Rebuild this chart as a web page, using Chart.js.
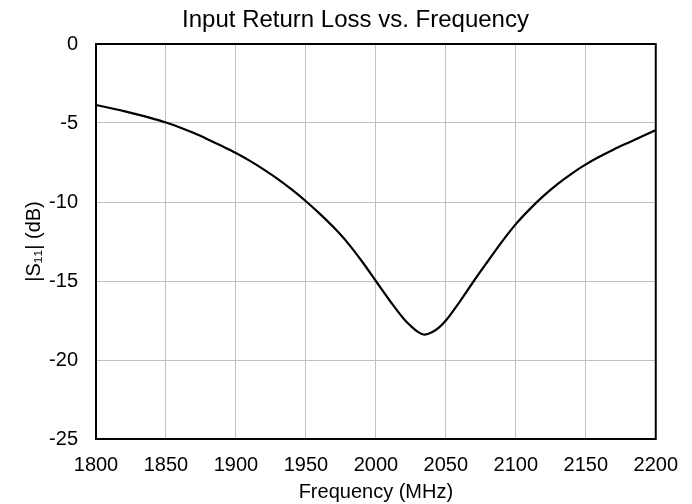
<!DOCTYPE html>
<html>
<head>
<meta charset="utf-8">
<script src="https://cdn.jsdelivr.net/npm/chart.js@4"></script>
<style>
  html, body { margin: 0; padding: 0; background: #ffffff; }
  #wrap { width: 692px; height: 504px; }
</style>
</head>
<body>
<div id="wrap"><canvas id="c" width="692" height="504"></canvas></div>
<script>
const frequencies = [1800, 1810, 1820, 1830, 1840, 1850, 1860, 1870, 1880, 1890,
  1900, 1910, 1920, 1930, 1940, 1950, 1960, 1970, 1980, 1990,
  2000, 2010, 2020, 2025, 2030, 2035, 2040, 2045, 2050, 2060, 2070, 2080,
  2090, 2100, 2110, 2120, 2130, 2140, 2150, 2160, 2170, 2180, 2190, 2200];
const s11 = [-3.86, -4.05, -4.25, -4.47, -4.71, -4.97, -5.28, -5.64, -6.04, -6.46,
  -6.90, -7.40, -7.95, -8.55, -9.22, -9.95, -10.75, -11.62, -12.60, -13.75,
  -15.00, -16.25, -17.40, -17.85, -18.22, -18.40, -18.25, -17.95, -17.50, -16.30, -15.00, -13.75,
  -12.52, -11.40, -10.45, -9.60, -8.85, -8.20, -7.62, -7.12, -6.67, -6.26, -5.86, -5.45];
const xTicks = [1800, 1850, 1900, 1950, 2000, 2050, 2100, 2150, 2200];
const yTicks = [0, -5, -10, -15, -20, -25];
const titleText = 'Input Return Loss vs. Frequency';
const xTitle = 'Frequency (MHz)';
const yTitle = '|S\u2081\u2081| (dB)';

const points = frequencies.map((f, i) => ({ x: f, y: s11[i] }));
const FONT = 'Liberation Sans, Arial, Helvetica, sans-serif';

const frame = {
  id: 'frame',
  afterDraw(chart) {
    const a = chart.chartArea, ctx = chart.ctx;
    ctx.save();
    ctx.strokeStyle = '#000000';
    ctx.lineWidth = 2;
    ctx.strokeRect(a.left, a.top, a.right - a.left, a.bottom - a.top);
    ctx.restore();
  }
};

new Chart(document.getElementById('c'), {
  type: 'line',
  data: {
    datasets: [{
      data: points,
      borderColor: '#000000',
      borderWidth: 2.2,
      pointRadius: 0,
      fill: false,
      cubicInterpolationMode: 'monotone'
    }]
  },
  options: {
    responsive: false,
    animation: false,
    devicePixelRatio: 1,
    layout: { padding: { left: 19, right: 0, top: 0, bottom: 0 } },
    plugins: {
      legend: { display: false },
      tooltip: { enabled: false },
      title: {
        display: true,
        text: titleText,
        color: '#000000',
        font: { family: FONT, size: 24, weight: 'normal', lineHeight: 1.2 },
        padding: { top: 6, bottom: 9.2 }
      }
    },
    scales: {
      x: {
        type: 'linear',
        min: 1800, max: 2200,
        afterBuildTicks: s => { s.ticks = xTicks.map(v => ({ value: v })); },
        afterFit: s => { s.height = 65; },
        grid: { color: '#c0c0c0', lineWidth: 1, drawTicks: false },
        border: { display: false },
        ticks: { color: '#000000', padding: 14, maxRotation: 0, autoSkip: false,
                 callback: v => String(v), font: { family: FONT, size: 20 } },
        title: { display: true, text: xTitle, color: '#000000', padding: { top: 0, bottom: 0 }, font: { family: FONT, size: 20 } }
      },
      y: {
        type: 'linear',
        min: -25, max: 0,
        afterBuildTicks: s => { s.ticks = yTicks.map(v => ({ value: v })); },
        afterFit: s => { s.width = 77; },
        grid: { color: '#c0c0c0', lineWidth: 1, drawTicks: false },
        border: { display: false },
        ticks: { color: '#000000', padding: 18, autoSkip: false,
                 callback: v => String(v), font: { family: FONT, size: 20 } },
        title: { display: true, text: yTitle, color: '#000000', padding: { top: 3, bottom: 0 }, font: { family: FONT, size: 20 } }
      },
      yPad: {
        type: 'linear',
        position: 'right',
        display: true,
        afterFit: s => { s.width = 36; },
        grid: { display: false, drawTicks: false },
        border: { display: false },
        ticks: { display: false }
      }
    }
  },
  plugins: [frame]
});
</script>
</body>
</html>
